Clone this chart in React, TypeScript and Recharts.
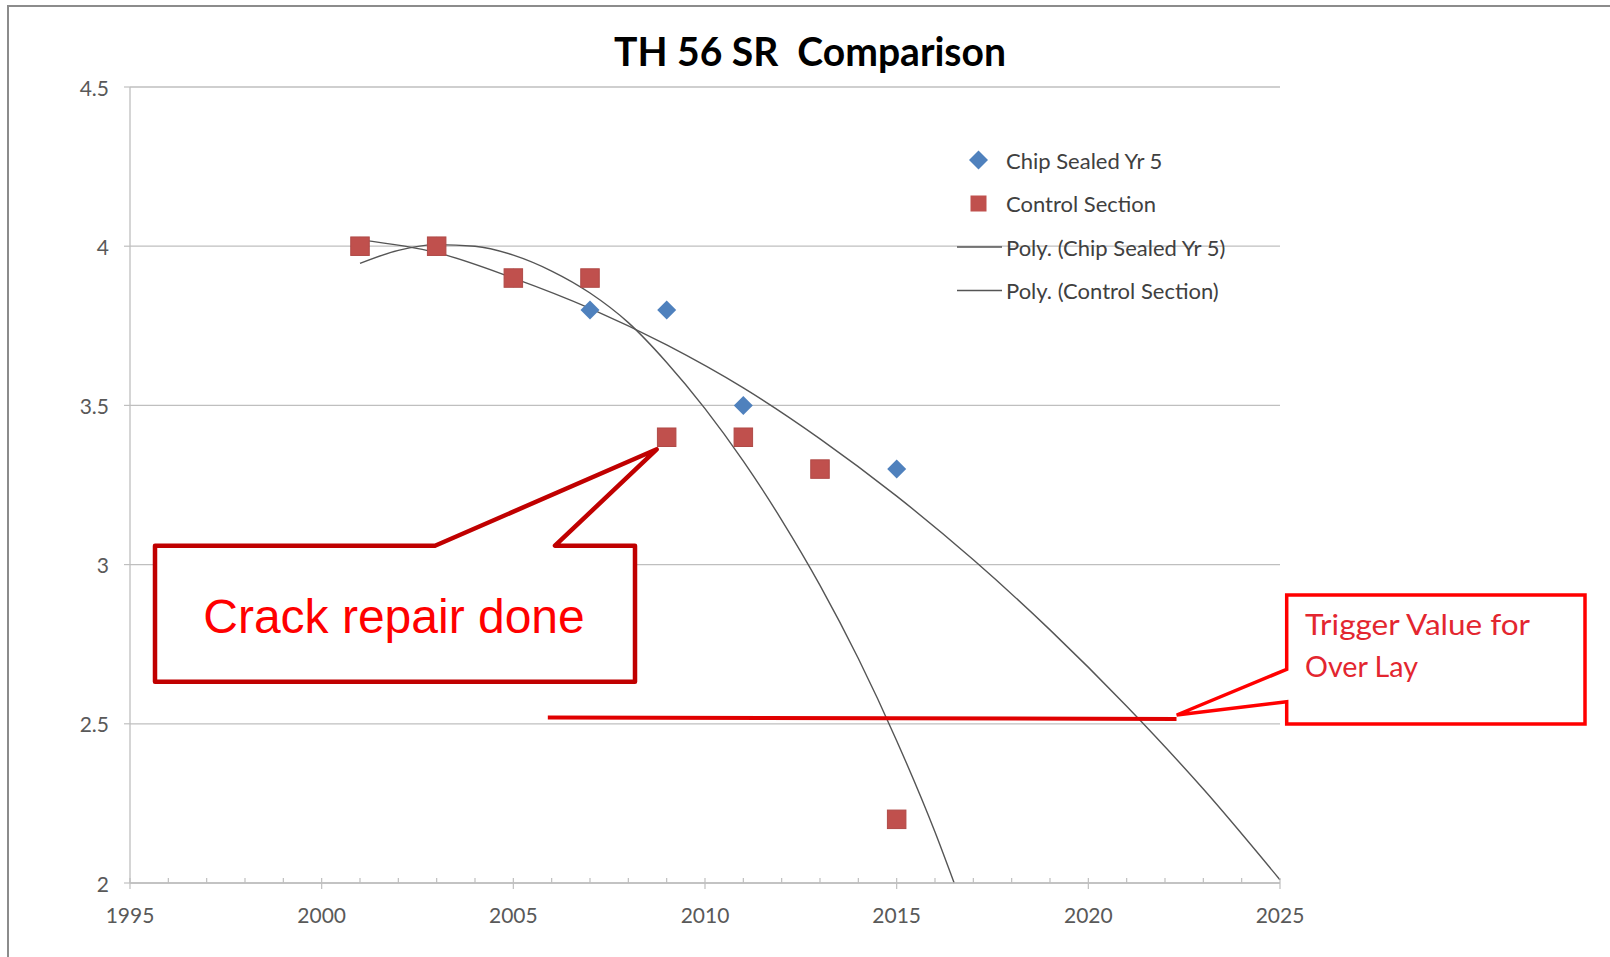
import React from 'react';
import {
  ComposedChart,
  Scatter,
  Line,
  XAxis,
  YAxis,
  CartesianGrid,
  ReferenceLine,
  Legend,
} from 'recharts';

// Measured values (year, rating)
const chipSealed = [
  { year: 2001, rating: 4.0 },
  { year: 2003, rating: 4.0 },
  { year: 2005, rating: 3.9 },
  { year: 2007, rating: 3.8 },
  { year: 2009, rating: 3.8 },
  { year: 2011, rating: 3.5 },
  { year: 2015, rating: 3.3 },
];

const controlSection = [
  { year: 2001, rating: 4.0 },
  { year: 2003, rating: 4.0 },
  { year: 2005, rating: 3.9 },
  { year: 2007, rating: 3.9 },
  { year: 2009, rating: 3.4 },
  { year: 2011, rating: 3.4 },
  { year: 2013, rating: 3.3 },
  { year: 2015, rating: 2.2 },
];

// Trend lines
const chipSealedTrend = [
  { year: 2001, rating: 4.02 },
  { year: 2003, rating: 3.98 },
  { year: 2005, rating: 3.9 },
  { year: 2007, rating: 3.805 },
  { year: 2009, rating: 3.69 },
  { year: 2011, rating: 3.555 },
  { year: 2013, rating: 3.395 },
  { year: 2015, rating: 3.215 },
  { year: 2017, rating: 3.015 },
  { year: 2019, rating: 2.795 },
  { year: 2021, rating: 2.555 },
  { year: 2023, rating: 2.295 },
  { year: 2025, rating: 2.01 },
];

const controlTrend = [
  { year: 2001, rating: 3.946 },
  { year: 2002, rating: 3.987 },
  { year: 2003, rating: 4.005 },
  { year: 2004, rating: 4.0 },
  { year: 2005, rating: 3.972 },
  { year: 2006, rating: 3.922 },
  { year: 2007, rating: 3.853 },
  { year: 2008, rating: 3.76 },
  { year: 2009, rating: 3.635 },
  { year: 2010, rating: 3.49 },
  { year: 2011, rating: 3.325 },
  { year: 2012, rating: 3.14 },
  { year: 2013, rating: 2.935 },
  { year: 2014, rating: 2.705 },
  { year: 2015, rating: 2.447 },
  { year: 2016, rating: 2.16 },
  { year: 2016.5, rating: 2.0 },
];

// hand drawn trigger line
const triggerLine = [
  { year: 2005.9, rating: 2.52 },
  { year: 2022.3, rating: 2.515 },
];

const yTicks = [2, 2.5, 3, 3.5, 4, 4.5];
const xTicks = [
  1995, 1996, 1997, 1998, 1999, 2000, 2001, 2002, 2003, 2004, 2005,
  2006, 2007, 2008, 2009, 2010, 2011, 2012, 2013, 2014, 2015,
  2016, 2017, 2018, 2019, 2020, 2021, 2022, 2023, 2024, 2025,
];
const xLabels = [1995, 2000, 2005, 2010, 2015, 2020, 2025];

const legendItems = [
  { label: 'Chip Sealed Yr 5', kind: 'diamond' },
  { label: 'Control Section', kind: 'square' },
  { label: 'Poly. (Chip Sealed Yr 5)', kind: 'line' },
  { label: 'Poly. (Control Section)', kind: 'line' },
];

const W = 1610;
const H = 957;
const MARGIN = { top: 87, right: 330, bottom: 14, left: 0 };
const Y_AXIS_W = 130;
const X_AXIS_H = 60;
const PLOT_LEFT = MARGIN.left + Y_AXIS_W;
const PLOT_BOTTOM = H - MARGIN.bottom - X_AXIS_H;

const FONT = 'Lato, "Open Sans", sans-serif';
const AXIS_GRAY = '#bfbfbf';
const LABEL_GRAY = '#595959';
const BLUE = '#4F81BD';
const RED = '#C0504D';
const TREND = '#555555';

function Square(props: any) {
  const { cx, cy } = props;
  if (cx == null || cy == null) return null;
  const s = 18.5;
  return <rect x={cx - s / 2} y={cy - s / 2} width={s} height={s} fill={RED} stroke="#b04a47" strokeWidth={1} />;
}

function Diamond(props: any) {
  const { cx, cy } = props;
  if (cx == null || cy == null) return null;
  const r = 9.5;
  return <path d={`M${cx},${cy - r} L${cx + r},${cy} L${cx},${cy + r} L${cx - r},${cy} Z`} fill={BLUE} />;
}

function YTick(props: any) {
  const { y, payload } = props;
  return (
    <g>
      <line x1={PLOT_LEFT - 6} x2={PLOT_LEFT} y1={y} y2={y} stroke={AXIS_GRAY} strokeWidth={1.2} />
      <text x={PLOT_LEFT - 21} y={y} textAnchor="end" dominantBaseline="central" fontFamily={FONT} fontSize={21} fill={LABEL_GRAY}>
        {payload.value}
      </text>
    </g>
  );
}

function XTick(props: any) {
  const { x, payload } = props;
  const major = xLabels.includes(payload.value);
  return (
    <g>
      {major ? (
        <line x1={x} x2={x} y1={PLOT_BOTTOM - 5} y2={PLOT_BOTTOM + 6} stroke={AXIS_GRAY} strokeWidth={1.2} />
      ) : (
        <line x1={x} x2={x} y1={PLOT_BOTTOM - 5} y2={PLOT_BOTTOM} stroke={AXIS_GRAY} strokeWidth={1.2} />
      )}
      {major && (
        <text x={x} y={PLOT_BOTTOM + 31} textAnchor="middle" dominantBaseline="central" fontFamily={FONT} fontSize={21} fill={LABEL_GRAY}>
          {payload.value}
        </text>
      )}
    </g>
  );
}

function LegendBox() {
  return (
    <svg width={330} height={175} style={{ overflow: 'visible' }}>
      {legendItems.map((item, i) => {
        const cy = 20 + i * 43.5;
        return (
          <g key={item.label}>
            {item.kind === 'diamond' && <Diamond cx={38.5} cy={cy} />}
            {item.kind === 'square' && (
              <rect x={38.5 - 8} y={cy - 8} width={16} height={16} fill={RED} />
            )}
            {item.kind === 'line' && (
              <line x1={17} x2={62} y1={cy} y2={cy} stroke={TREND} strokeWidth={1.5} />
            )}
            <text x={66} y={cy} dominantBaseline="central" fontFamily={FONT} fontSize={22} fill="#404040">
              {item.label}
            </text>
          </g>
        );
      })}
    </svg>
  );
}

export default function App() {
  return (
    <div style={{ position: 'absolute', left: 0, top: 0, width: W, height: H, background: '#fff', overflow: 'hidden' }}>
      {/* chart frame */}
      <div style={{ position: 'absolute', left: 7, top: 5, width: W, height: H, borderLeft: '2px solid #8c8c8c', borderTop: '2px solid #8c8c8c' }} />

      <ComposedChart width={W} height={H} margin={MARGIN} style={{ position: 'absolute', left: 0, top: 0 }}>
        <CartesianGrid horizontal vertical={false} stroke={AXIS_GRAY} strokeWidth={1.3} />
        <XAxis
          type="number"
          dataKey="year"
          domain={[1995, 2025]}
          ticks={xTicks}
          interval={0}
          height={X_AXIS_H}
          axisLine={{ stroke: AXIS_GRAY, strokeWidth: 1.3 }}
          tickLine={false}
          tick={<XTick />}
        />
        <YAxis
          type="number"
          dataKey="rating"
          domain={[2, 4.5]}
          ticks={yTicks}
          interval={0}
          width={Y_AXIS_W}
          axisLine={{ stroke: AXIS_GRAY, strokeWidth: 1.3 }}
          tickLine={false}
          tick={<YTick />}
        />
        <Legend
          layout="vertical"
          align="center"
          verticalAlign="middle"
          content={() => <LegendBox />}
          wrapperStyle={{ left: 940, top: 140, width: 330, height: 175 }}
        />
        <Scatter name="Chip Sealed Yr 5" data={chipSealed} shape={<Diamond />} isAnimationActive={false} />
        <Scatter name="Control Section" data={controlSection} shape={<Square />} isAnimationActive={false} />
        <Line
          name="Poly. (Chip Sealed Yr 5)"
          data={chipSealedTrend}
          dataKey="rating"
          type="monotone"
          stroke={TREND}
          strokeWidth={1.4}
          dot={false}
          activeDot={false}
          isAnimationActive={false}
        />
        <Line
          name="Poly. (Control Section)"
          data={controlTrend}
          dataKey="rating"
          type="monotone"
          stroke={TREND}
          strokeWidth={1.4}
          dot={false}
          activeDot={false}
          isAnimationActive={false}
        />
        <ReferenceLine
          segment={[
            { x: triggerLine[0].year, y: triggerLine[0].rating },
            { x: triggerLine[1].year, y: triggerLine[1].rating },
          ]}
          stroke="#e00000"
          strokeWidth={4}
        />
      </ComposedChart>

      {/* title and callouts */}
      <svg width={W} height={H} style={{ position: 'absolute', left: 0, top: 0, pointerEvents: 'none' }}>
        <text x={810} y={66} textAnchor="middle" fontFamily={FONT} fontWeight={700} fontSize={40} fill="#000" textLength={392} lengthAdjust="spacingAndGlyphs" style={{ whiteSpace: 'pre' }}>
          TH 56 SR  Comparison
        </text>

        <path
          d="M155,545.7 L435,545.7 L656.7,449.3 L555,545.7 L635,545.7 L635,681.7 L155,681.7 Z"
          fill="#fff"
          stroke="#C00000"
          strokeWidth={4.5}
          strokeLinejoin="round"
        />
        <text x={394} y={633} textAnchor="middle" fontFamily='"Liberation Sans", Arial, sans-serif' fontSize={48} fill="#FF0000">
          Crack repair done
        </text>

        <path
          d="M1286.7,595 L1585,595 L1585,724 L1286.7,724 L1286.7,701.7 L1176.7,715 L1286.7,669.3 Z"
          fill="#fff"
          stroke="#FF0000"
          strokeWidth={3.5}
          strokeLinejoin="miter"
        />
        <text x={1305} y={635} fontFamily={FONT} fontSize={29} fill="#E3262F" textLength={225} lengthAdjust="spacingAndGlyphs">
          Trigger Value for
        </text>
        <text x={1305} y={677} fontFamily={FONT} fontSize={29} fill="#E3262F" textLength={113} lengthAdjust="spacingAndGlyphs">
          Over Lay
        </text>
      </svg>
    </div>
  );
}
